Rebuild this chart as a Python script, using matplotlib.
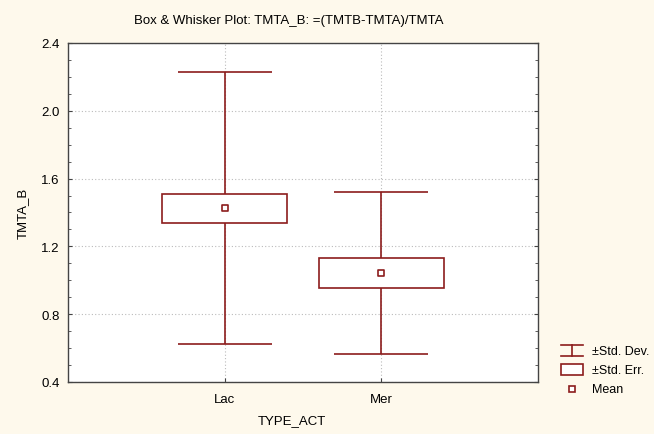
import numpy as np
import matplotlib.pyplot as plt
from matplotlib.lines import Line2D
from matplotlib.patches import Rectangle

plt.rcParams['font.family'] = ['Liberation Sans', 'DejaVu Sans']
plt.rcParams['font.size'] = 9.5

# data
groups = ['Lac', 'Mer']
means = [1.425, 1.042]
std_err = [0.086, 0.089]
std_dev = [0.803, 0.477]

red = '#8C1C1C'
bg = '#FEF9EC'
fs = 9.5

fig = plt.figure(figsize=(6.54, 4.35), dpi=100, facecolor=bg)
ax = fig.add_axes([68/654, 1 - 383/435, 470/654, 339/435])
ax.set_facecolor('white')

x = np.arange(1, len(groups) + 1)
m = np.array(means)
se = np.array(std_err)
sd = np.array(std_dev)

# whiskers (std dev)
ax.vlines(x, m - sd, m + sd, color=red, lw=1.2, zorder=2)
ax.hlines(m - sd, x - 0.3, x + 0.3, color=red, lw=1.2, zorder=2)
ax.hlines(m + sd, x - 0.3, x + 0.3, color=red, lw=1.2, zorder=2)
# boxes (std err)
ax.bar(x, 2 * se, bottom=m - se, width=0.8, color='white', edgecolor=red,
       lw=1.2, zorder=3)
# mean
ax.scatter(x, m, marker='s', s=18, facecolor='white', edgecolor=red,
           linewidth=1.2, zorder=4)

ax.set_xlim(0, 3)
ax.set_ylim(0.4, 2.4)
ax.set_xticks(x)
ax.set_xticklabels(groups)
yt = np.arange(0.4, 2.41, 0.4)
ax.set_yticks(yt)
ax.set_yticklabels(['%.1f' % v for v in yt])
ax.set_yticks(np.arange(0.4, 2.41, 0.1), minor=True)
ax.tick_params(axis='both', which='both', direction='in', right=True,
               colors='#444444', labelcolor='black', labelsize=fs)
ax.tick_params(which='major', length=3)
ax.tick_params(which='minor', length=2)
ax.tick_params(axis='x', pad=8)
ax.tick_params(axis='y', pad=6)
ax.grid(True, which='major', linestyle=(0, (1, 2)), color='#BBBBBB', lw=0.8)
ax.set_axisbelow(True)
for s in ax.spines.values():
    s.set_color('#444444')
    s.set_linewidth(1.0)

ax.set_xlabel('TYPE_ACT', fontsize=fs)
ax.xaxis.set_label_coords((292 - 68) / 470, -(415 - 383) / 339)
ax.set_ylabel('TMTA_B', fontsize=fs, labelpad=9)

def fx(px):
    return px / 654

def fy(py):
    return 1 - py / 435

fig.text(fx(289), fy(21), 'Box & Whisker Plot: TMTA_B: =(TMTB-TMTA)/TMTA',
         ha='center', va='center', fontsize=fs)

# legend drawn by hand on the figure
fig.add_artist(Line2D([fx(561), fx(583)], [fy(346), fy(346)], color=red, lw=1.2))
fig.add_artist(Line2D([fx(561), fx(583)], [fy(357), fy(357)], color=red, lw=1.2))
fig.add_artist(Line2D([fx(572), fx(572)], [fy(346), fy(357)], color=red, lw=1.2))
fig.text(fx(592), fy(352), '±Std. Dev.', va='center', fontsize=9)
fig.add_artist(Rectangle((fx(561), fy(376)), fx(22), 11 / 435, facecolor='white',
                         edgecolor=red, lw=1.2))
fig.text(fx(592), fy(371), '±Std. Err.', va='center', fontsize=9)
fig.add_artist(Line2D([fx(572)], [fy(390)], marker='s', markersize=4.5,
                      markerfacecolor='white', markeredgecolor=red, mew=1.2))
fig.text(fx(592), fy(390), 'Mean', va='center', fontsize=9)

fig.savefig('out.png', dpi=100, facecolor=bg)
